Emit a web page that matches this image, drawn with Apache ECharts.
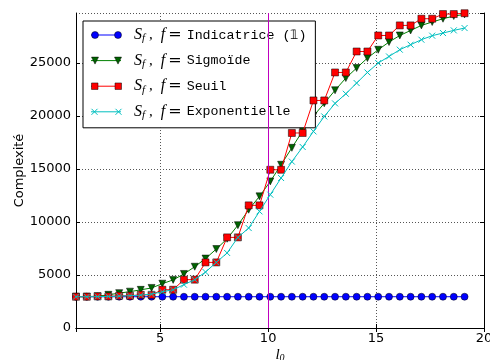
<!DOCTYPE html>
<html><head><meta charset="utf-8">
<script src="https://cdn.jsdelivr.net/npm/echarts@6/dist/echarts.min.js"></script>
<style>html,body{margin:0;padding:0;background:#fff}#c{width:490px;height:360px}</style>
</head><body><div id="c"></div>
<script>
const lValues = [1.1,1.6,2.1,2.6,3.1,3.6,4.1,4.6,5.1,5.6,6.1,6.6,7.1,7.6,8.1,8.6,9.1,9.6,10.1,10.6,11.1,11.6,12.1,12.6,13.1,13.6,14.1,14.6,15.1,15.6,16.1,16.6,17.1,17.6,18.1,18.6,19.1];
const indicatrice = [2950,2950,2950,2950,2950,2950,2950,2950,2950,2950,2950,2950,2950,2950,2950,2950,2950,2950,2950,2950,2950,2950,2950,2950,2950,2950,2950,2950,2950,2950,2950,2950,2950,2950,2950,2950,2950];
const sigmoide = [2950,2960,3000,3130,3290,3430,3600,3780,4180,4540,5100,5780,6550,7450,8420,9700,11160,12420,13830,15400,17000,18600,20000,21200,22430,23580,24530,25470,26250,26980,27600,28070,28550,28870,29180,29430,29590];
const seuil = [2950,2950,2980,2980,3040,3040,3130,3130,3610,3610,4560,4560,6190,6190,8550,8550,11570,11570,14930,14930,18400,18400,21470,21470,24110,24110,26090,26090,27600,27600,28550,28550,29180,29180,29620,29620,29700];
const exponentielle = [2950,2950,2960,2980,3010,3050,3100,3200,3420,3610,4090,4560,5280,6190,7080,8550,9430,11000,12580,14150,15700,17080,18550,19960,21190,22100,23110,24110,25000,25620,26260,26730,27200,27580,27830,28080,28300];
const seriesNames = ['Indicatrice (\u{1D7D9})', 'Sigmo\u00efde', 'Seuil', 'Exponentielle'];
const verticalMarker = [10];
const xRange = [1.1, 20];
const yRange = [0, 29720];

const colors = ['#0000ff', '#008000', '#ff0000', '#00bfbf'];
const lineColors = ['#0000ff', '#008000', '#ff0000', '#00bfbf'];
const markerFill = ['#0000ff', '#006400', '#ff0000', '#00bfbf'];
const symbols = ['circle', 'triangle', 'rect', 'path://M0,0L10,10M10,0L0,10'];
const rotates = [0, 180, 0, 0];
const sizes = [7, 7, 7, 6];
const dataSets = [indicatrice, sigmoide, seuil, exponentielle];

const legendMarkerIcons = [
  'path://M0,3.5A3.5,3.5 0 1,1 7,3.5A3.5,3.5 0 1,1 0,3.5ZM23,3.5A3.5,3.5 0 1,1 30,3.5A3.5,3.5 0 1,1 23,3.5Z',
  'path://M0,0L7,0L3.5,7ZM23,0L30,0L26.5,7Z',
  'path://M0,0L6.5,0L6.5,6.5L0,6.5ZM23.5,0L30,0L30,6.5L23.5,6.5Z',
  'path://M0,0L6,6M6,0L0,6M24,0L30,6M30,0L24,6'
];

function richFor(c) {
  return {
    S: {fontFamily: 'Liberation Serif', fontStyle: 'italic', fontSize: 16, color: c, lineHeight: 18, verticalAlign: 'middle', padding: [0, 0, 0, 8]},
    s: {fontFamily: 'Liberation Serif', fontStyle: 'italic', fontSize: 16, color: c, lineHeight: 18, verticalAlign: 'middle'},
    sub: {fontFamily: 'Liberation Serif', fontStyle: 'italic', fontSize: 11, color: c, lineHeight: 11, verticalAlign: 'bottom'},
    c: {fontFamily: 'Liberation Serif', fontSize: 15, color: c, lineHeight: 18, verticalAlign: 'middle', padding: [0, 8, 0, 4]},
    e: {fontFamily: 'DejaVu Serif', fontSize: 16, color: c, lineHeight: 18, verticalAlign: 'middle', padding: [0, 5, 0, 3]},
    m: {fontFamily: 'Liberation Mono', fontSize: 13.3, color: c, lineHeight: 18, verticalAlign: 'middle'}
  };
}
function fmt(name) { return '{S|S}{sub|f}{c|,}{s|f}{e|=}{m|' + name + '}'; }

const legendBase = {
  orient: 'vertical', left: 83, top: 21, padding: [6, 9, 7, 8], itemGap: 8.6,
  itemWidth: 30, itemHeight: 7, selectedMode: false, formatter: fmt, borderRadius: 0
};

const chart = echarts.init(document.getElementById('c'), null, {renderer: 'canvas'});
const splitStyle = {show: true, lineStyle: {color: '#555', width: 1, type: [1, 2]}};
const tickStyle = {show: true, inside: true, length: 4, lineStyle: {color: '#000', width: 1}};
const lineAxis = {show: true, lineStyle: {color: '#000', width: 1}};
const labelStyle = {color: '#000', fontFamily: 'DejaVu Sans', fontSize: 13, formatter: v => String(v)};

chart.setOption({
  animation: false,
  backgroundColor: '#fff',
  grid: {left: 76, right: 6, top: 13, bottom: 32, containLabel: false, outerBoundsMode: 'none'},
  xAxis: [
    {type: 'value', min: xRange[0], max: xRange[1], splitNumber: 4, position: 'bottom',
     axisLine: lineAxis, axisTick: tickStyle, splitLine: splitStyle,
     axisLabel: Object.assign({margin: 4, showMinLabel: false}, labelStyle),
     name: '{l|l}{z|0}', nameLocation: 'middle', nameGap: 19, nameMoveOverlap: false,
     nameTextStyle: {rich: {
       l: {fontFamily: 'Liberation Serif', fontStyle: 'italic', fontSize: 15, color: '#000', lineHeight: 16, verticalAlign: 'middle'},
       z: {fontFamily: 'Liberation Serif', fontStyle: 'italic', fontSize: 10, color: '#000', lineHeight: 10, verticalAlign: 'bottom'}
     }}},
    {type: 'value', min: xRange[0], max: xRange[1], splitNumber: 4, position: 'top',
     axisLine: lineAxis, axisTick: tickStyle, splitLine: {show: false}, axisLabel: {show: false}}
  ],
  yAxis: [
    {type: 'value', min: yRange[0], max: yRange[1], interval: 5000, position: 'left',
     axisLine: lineAxis, axisTick: tickStyle, splitLine: splitStyle,
     axisLabel: Object.assign({margin: 5, showMaxLabel: false}, labelStyle),
     name: 'Complexit\u00e9', nameLocation: 'middle', nameGap: 50, nameMoveOverlap: false,
     nameTextStyle: {color: '#000', fontFamily: 'DejaVu Sans', fontSize: 13}},
    {type: 'value', min: yRange[0], max: yRange[1], interval: 5000, position: 'right',
     axisLine: lineAxis, axisTick: tickStyle, splitLine: {show: false}, axisLabel: {show: false}}
  ],
  legend: [
    Object.assign({}, legendBase, {
      backgroundColor: '#fff', borderColor: '#000', borderWidth: 1, z: 4,
      textStyle: {rich: richFor('#000')},
      data: seriesNames.map((n, i) => ({name: n, icon: 'path://M0,0L30,0L30,1L0,1Z',
        itemStyle: {color: lineColors[i], borderWidth: 0}}))
    }),
    Object.assign({}, legendBase, {
      backgroundColor: 'transparent', borderColor: 'transparent', borderWidth: 1, z: 5,
      textStyle: {rich: richFor('rgba(0,0,0,0)')},
      data: seriesNames.map((n, i) => ({name: n, icon: legendMarkerIcons[i],
        itemStyle: i === 3 ? {color: colors[3], borderColor: colors[3], borderWidth: 1}
                           : {color: markerFill[i], borderColor: '#000', borderWidth: 0.5}}))
    })
  ],
  series: seriesNames.map((n, i) => {
    const s = {
      name: n, type: 'line', xAxisIndex: 0, yAxisIndex: 0,
      data: lValues.map((x, k) => [x, dataSets[i][k]]),
      symbol: symbols[i], symbolSize: sizes[i], symbolRotate: rotates[i],
      showSymbol: true, showAllSymbol: true, z: 2 + i,
      lineStyle: {color: lineColors[i], width: 1},
      itemStyle: i === 3 ? {color: colors[3], borderColor: colors[3], borderWidth: 1}
                         : {color: markerFill[i], borderColor: '#000', borderWidth: 0.5},
      emphasis: {disabled: true}
    };
    if (i === 0) {
      s.markLine = {silent: true, symbol: 'none', label: {show: false},
        lineStyle: {color: '#bf00bf', width: 1, type: 'solid'},
        data: [{xAxis: verticalMarker[0]}]};
    }
    return s;
  })
});
</script></body></html>
